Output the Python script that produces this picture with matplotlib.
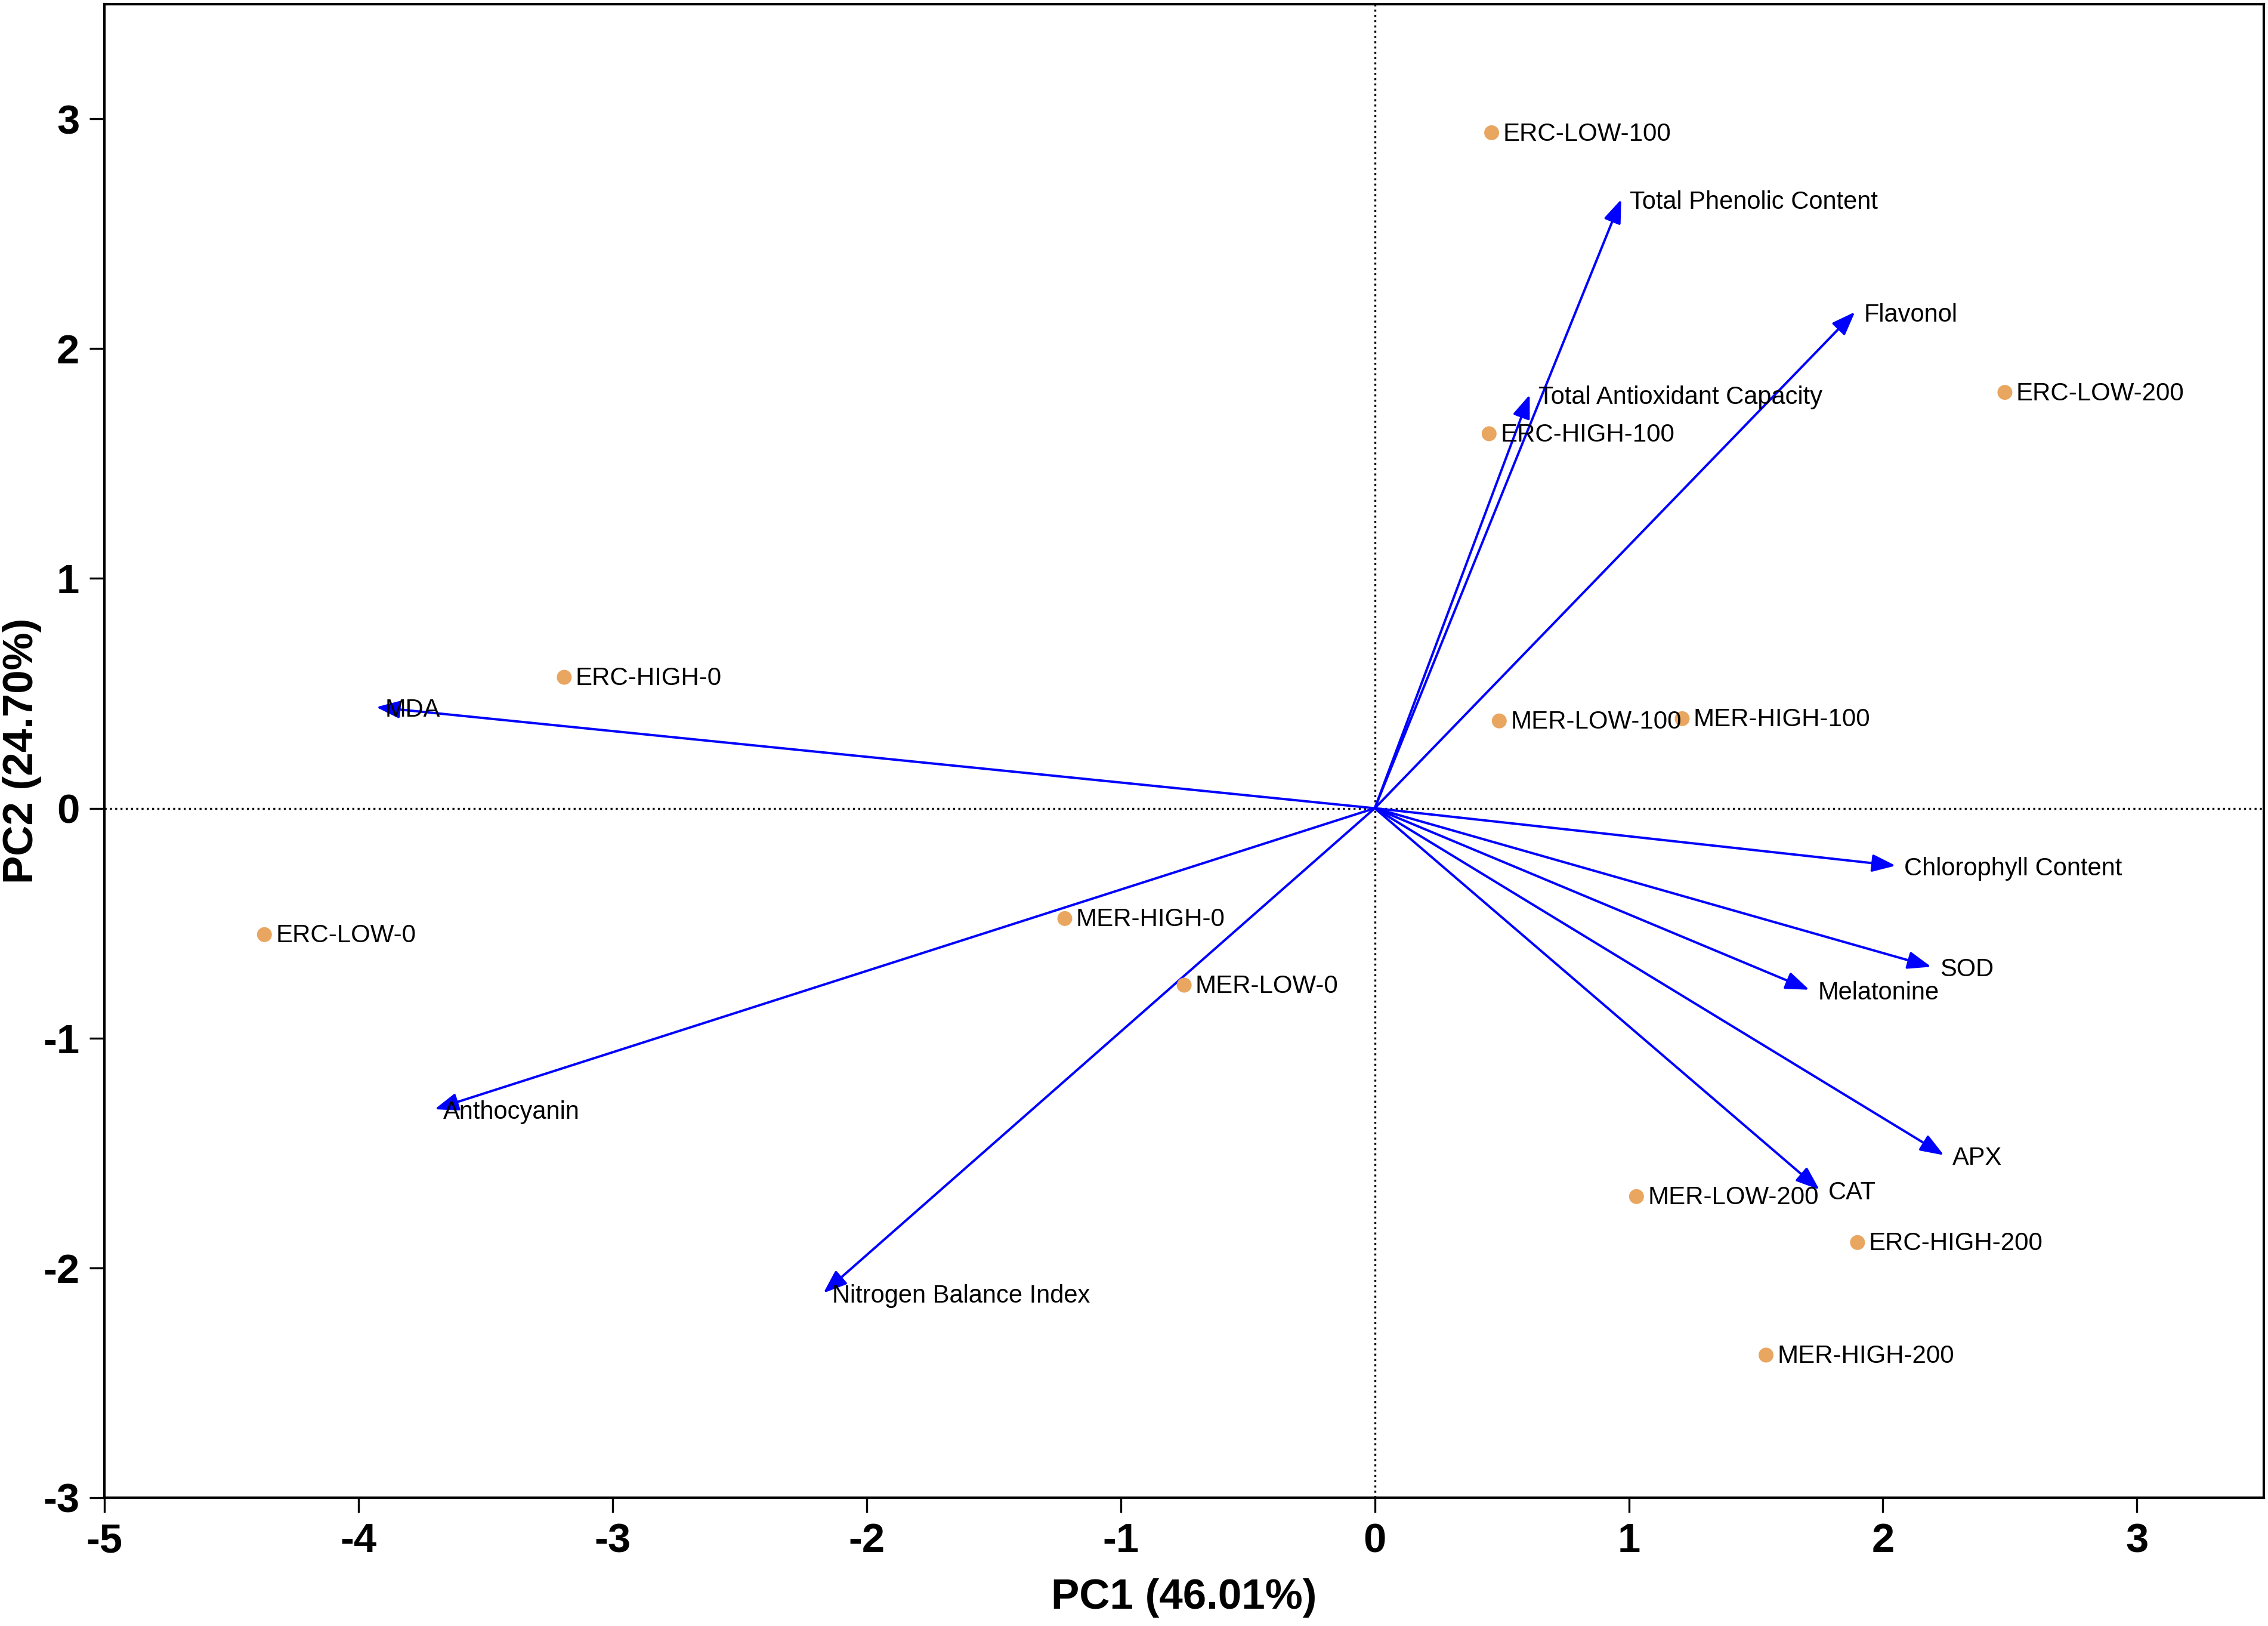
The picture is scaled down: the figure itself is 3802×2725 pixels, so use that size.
import numpy as np
import matplotlib
matplotlib.use("Agg")
import matplotlib.pyplot as plt

plt.rcParams['font.family'] = ['Liberation Sans', 'DejaVu Sans']
plt.rcParams['axes.unicode_minus'] = False

# scores des individus (PC1, PC2)
obs_noms = ["ERC-LOW-100", "ERC-HIGH-100", "ERC-LOW-200", "ERC-HIGH-0",
            "MER-LOW-100", "MER-HIGH-100", "ERC-LOW-0", "MER-HIGH-0",
            "MER-LOW-0", "MER-LOW-200", "ERC-HIGH-200", "MER-HIGH-200"]
obs_pc1 = [0.46, 0.45, 2.48, -3.19, 0.49, 1.21, -4.37, -1.22, -0.75, 1.03, 1.90, 1.54]
obs_pc2 = [2.94, 1.63, 1.81, 0.57, 0.38, 0.39, -0.55, -0.48, -0.77, -1.69, -1.89, -2.38]

# vecteurs des variables
var_noms = ["Total Phenolic Content", "Flavonol", "Total Antioxidant Capacity", "MDA",
            "Chlorophyll Content", "SOD", "Melatonine", "APX", "CAT",
            "Anthocyanin", "Nitrogen Balance Index"]
var_pc1 = [0.97, 1.89, 0.61, -3.93, 2.05, 2.19, 1.71, 2.24, 1.75, -3.70, -2.17]
var_pc2 = [2.65, 2.16, 1.80, 0.44, -0.25, -0.69, -0.79, -1.51, -1.66, -1.31, -2.11]

xticks = [-5, -4, -3, -2, -1, 0, 1, 2, 3]
yticks = [-3, -2, -1, 0, 1, 2, 3]

fig = plt.figure(figsize=(3803 / 300., 2725 / 300.), dpi=300)
ax = fig.add_axes([0.046, 0.079, 0.952, 0.9185])

ax.axhline(0, color='black', ls=':', lw=0.8, zorder=1)
ax.axvline(0, color='black', ls=':', lw=0.8, zorder=1)

for nom, x, y in zip(var_noms, var_pc1, var_pc2):
    ax.annotate("", xy=(x, y), xytext=(0, 0),
                arrowprops=dict(arrowstyle='-|>,head_length=0.8,head_width=0.3',
                                color='blue', lw=0.95, shrinkA=0, shrinkB=0,
                                mutation_scale=10), zorder=3)
    ax.annotate(nom, xy=(x, y), xytext=(3.5, -1.2), textcoords='offset points',
                ha='left', va='center', fontsize=10, zorder=4)

ax.scatter(obs_pc1, obs_pc2, s=36, color='#E8A660', edgecolors='none', zorder=5)
for nom, x, y in zip(obs_noms, obs_pc1, obs_pc2):
    ax.annotate(nom, xy=(x, y), xytext=(4.5, -0.5), textcoords='offset points',
                ha='left', va='center', fontsize=10.1, zorder=6)

ax.set_xlim(-5, 3.5)
ax.set_ylim(-3, 3.5)
ax.set_xticks(xticks)
ax.set_yticks(yticks)
ax.tick_params(direction='out', length=6, width=0.8, labelsize=16.5, pad=4)
for lab in ax.get_xticklabels() + ax.get_yticklabels():
    lab.set_fontweight('bold')
for sp in ax.spines.values():
    sp.set_linewidth(1.0)

ax.set_xlabel("PC1 (46.01%)", fontsize=17, fontweight='bold', labelpad=7)
ax.set_ylabel("PC2 (24.70%)", fontsize=17, fontweight='bold')
ax.yaxis.set_label_coords(-0.029, 0.5)

plt.savefig("out.png", dpi=300)
